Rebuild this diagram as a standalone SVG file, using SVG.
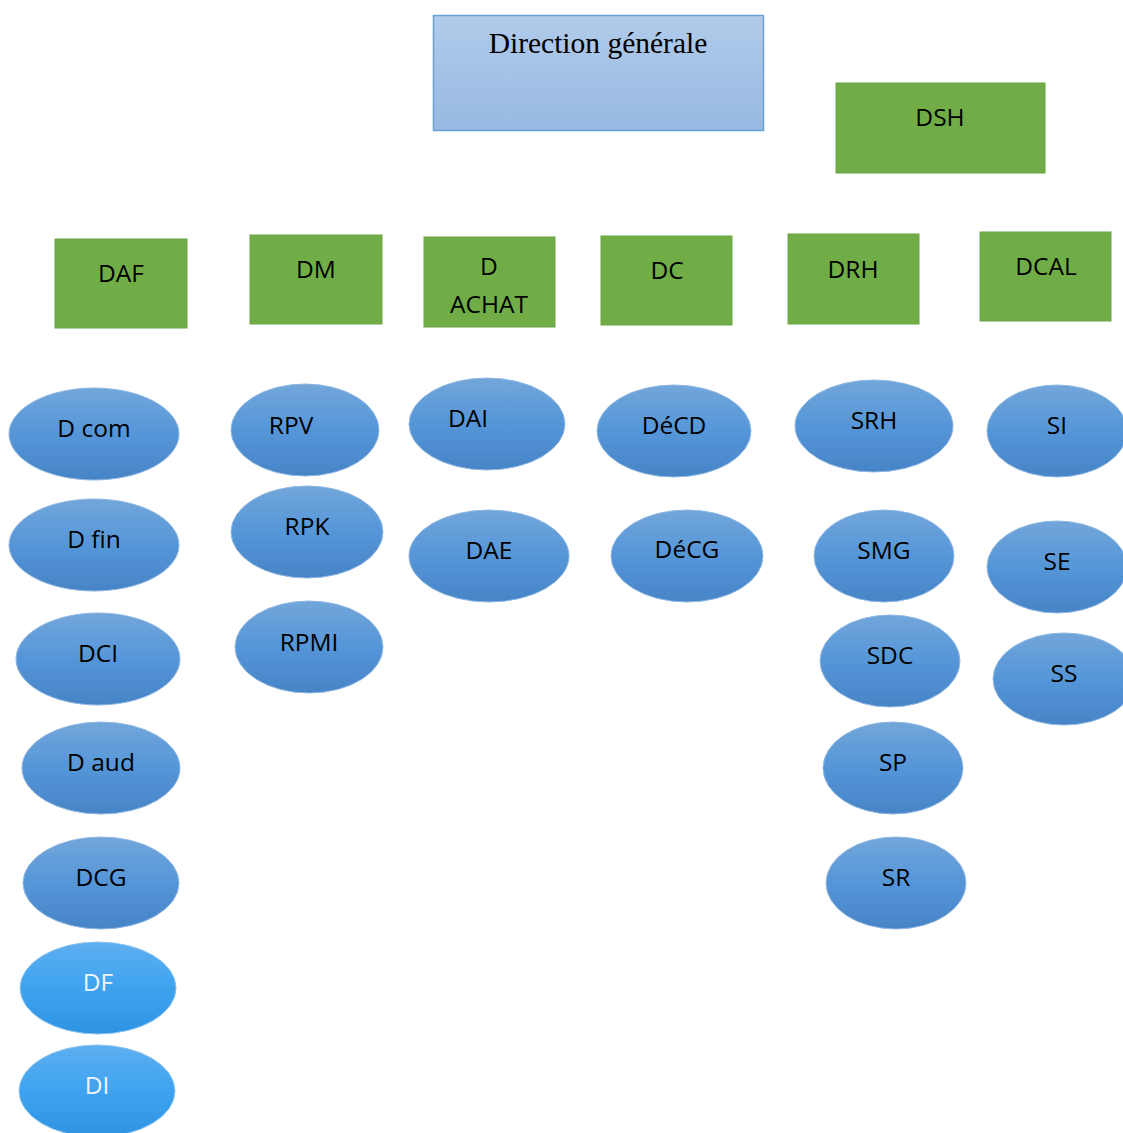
<svg xmlns="http://www.w3.org/2000/svg" width="1123" height="1133" viewBox="0 0 1123 1133">
<defs>
<linearGradient id="gTop" x1="0" y1="0" x2="0" y2="1"><stop offset="0" stop-color="#b1cbea"/><stop offset="1" stop-color="#97b9e2"/></linearGradient>
<linearGradient id="gEl" x1="0" y1="0" x2="0" y2="1"><stop offset="0" stop-color="#72a6da"/><stop offset="0.5" stop-color="#5596d8"/><stop offset="1" stop-color="#4684c6"/></linearGradient>
<linearGradient id="gEl2" x1="0" y1="0" x2="0" y2="1"><stop offset="0" stop-color="#5eaff0"/><stop offset="0.5" stop-color="#3ea3ef"/><stop offset="1" stop-color="#2e93e2"/></linearGradient>
<style>
.g rect{fill:#70ad47;stroke:#6aa543;stroke-width:1}
.e ellipse{fill:url(#gEl);stroke:#8fb7e2;stroke-width:1}
.e2 ellipse{fill:url(#gEl2);stroke:#8cc4f0;stroke-width:1}
text{font-family:"Open Sans","Liberation Sans",sans-serif;font-size:24.5px;text-anchor:middle;fill:#000}
.e2 text{fill:#eef4fb}
.t{font-family:"Liberation Serif",serif;font-size:29.5px}
</style>
</defs>
<g id="direction-generale"><rect x="433.5" y="15.5" width="330" height="115" fill="url(#gTop)" stroke="#6a9fd6" stroke-width="1.5"/><text class="t" x="598" y="53">Direction générale</text></g>
<g id="DSH" class="g"><rect x="836" y="83" width="209" height="90"/><text x="940" y="126">DSH</text></g>
<g id="DAF" class="g"><rect x="55" y="239" width="132" height="89"/><text x="121" y="282">DAF</text></g>
<g id="DM" class="g"><rect x="250" y="235" width="132" height="89"/><text x="316" y="278">DM</text></g>
<g id="DACHAT" class="g"><rect x="424" y="237" width="131" height="90"/><text x="489" y="275">D</text><text x="489" y="313">ACHAT</text></g>
<g id="DC" class="g"><rect x="601" y="236" width="131" height="89"/><text x="667" y="279">DC</text></g>
<g id="DRH" class="g"><rect x="788" y="234" width="131" height="90"/><text x="853" y="278">DRH</text></g>
<g id="DCAL" class="g"><rect x="980" y="232" width="131" height="89"/><text x="1046" y="275">DCAL</text></g>
<g id="Dcom" class="e"><ellipse cx="94" cy="434" rx="85" ry="46"/><text x="94" y="437">D com</text></g>
<g id="Dfin" class="e"><ellipse cx="94" cy="545" rx="85" ry="46"/><text x="94" y="548">D fin</text></g>
<g id="DCI" class="e"><ellipse cx="98" cy="659" rx="82" ry="46"/><text x="98" y="662">DCI</text></g>
<g id="Daud" class="e"><ellipse cx="101" cy="768" rx="79" ry="46"/><text x="101" y="771">D aud</text></g>
<g id="DCG" class="e"><ellipse cx="101" cy="883" rx="78" ry="46"/><text x="101" y="886">DCG</text></g>
<g id="DF" class="e2"><ellipse cx="98" cy="988" rx="78" ry="46"/><text x="98" y="991">DF</text></g>
<g id="DI" class="e2"><ellipse cx="97" cy="1091" rx="78" ry="46"/><text x="97" y="1094">DI</text></g>
<g id="RPV" class="e"><ellipse cx="305" cy="430" rx="74" ry="46"/><text x="291" y="434">RPV</text></g>
<g id="RPK" class="e"><ellipse cx="307" cy="532" rx="76" ry="46"/><text x="307" y="535">RPK</text></g>
<g id="RPMI" class="e"><ellipse cx="309" cy="647" rx="74" ry="46"/><text x="309" y="651">RPMI</text></g>
<g id="DAI" class="e"><ellipse cx="487" cy="424" rx="78" ry="46"/><text x="468" y="427">DAI</text></g>
<g id="DAE" class="e"><ellipse cx="489" cy="556" rx="80" ry="46"/><text x="489" y="559">DAE</text></g>
<g id="DeCD" class="e"><ellipse cx="674" cy="431" rx="77" ry="46"/><text x="674" y="434">DéCD</text></g>
<g id="DeCG" class="e"><ellipse cx="687" cy="556" rx="76" ry="46"/><text x="687" y="558">DéCG</text></g>
<g id="SRH" class="e"><ellipse cx="874" cy="426" rx="79" ry="46"/><text x="874" y="429">SRH</text></g>
<g id="SMG" class="e"><ellipse cx="884" cy="556" rx="70" ry="46"/><text x="884" y="559">SMG</text></g>
<g id="SDC" class="e"><ellipse cx="890" cy="661" rx="70" ry="46"/><text x="890" y="664">SDC</text></g>
<g id="SP" class="e"><ellipse cx="893" cy="768" rx="70" ry="46"/><text x="893" y="771">SP</text></g>
<g id="SR" class="e"><ellipse cx="896" cy="883" rx="70" ry="46"/><text x="896" y="886">SR</text></g>
<g id="SI" class="e"><ellipse cx="1057" cy="431" rx="70" ry="46"/><text x="1057" y="434">SI</text></g>
<g id="SE" class="e"><ellipse cx="1057" cy="567" rx="70" ry="46"/><text x="1057" y="570">SE</text></g>
<g id="SS" class="e"><ellipse cx="1064" cy="679" rx="71" ry="46"/><text x="1064" y="682">SS</text></g>
<g id="connectors"></g>
</svg>
